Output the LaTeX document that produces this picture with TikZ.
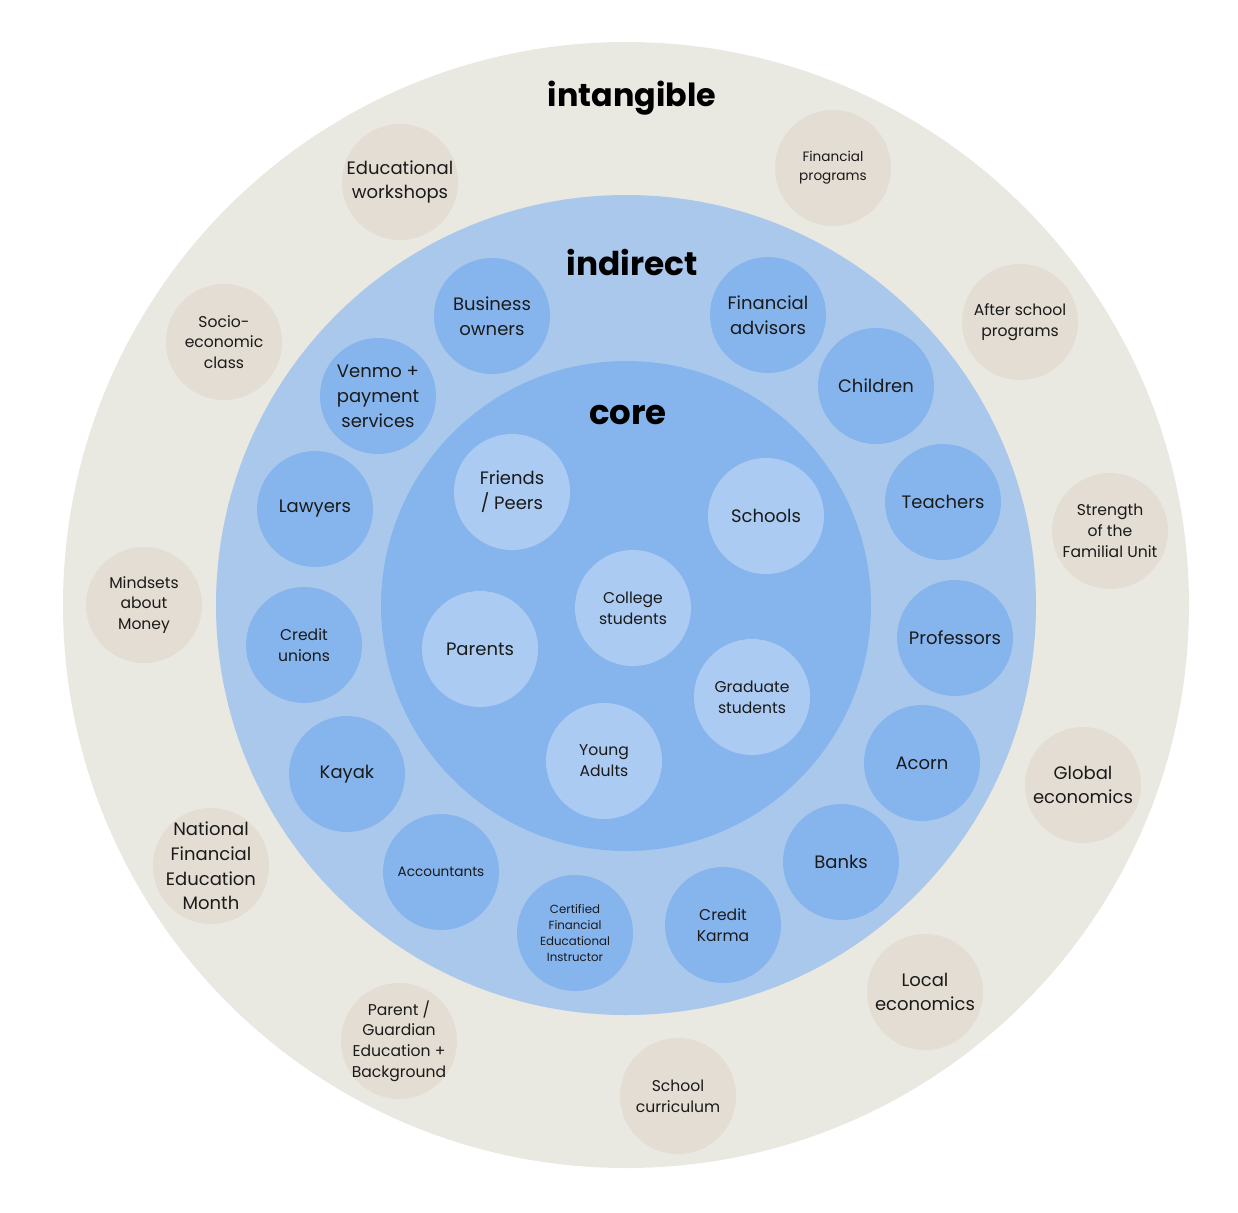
\documentclass[tikz,border=0pt]{standalone}
\usepackage{fontspec}
\setmainfont{Poppins}
\definecolor{outerbg}{HTML}{E9E8E1}
\definecolor{sand}{HTML}{E4DDD3}
\definecolor{midblue}{HTML}{AAC8EC}
\definecolor{deepblue}{HTML}{86B5EE}
\definecolor{paleblue}{HTML}{ABCBF2}
\definecolor{ink}{HTML}{1A1A1A}
\newcommand{\fsL}{\fontsize{9pt}{12.4pt}\selectfont}
\newcommand{\fsM}{\fontsize{7.8pt}{10.4pt}\selectfont}
\newcommand{\fsS}{\fontsize{6.8pt}{9.6pt}\selectfont}
\newcommand{\fsT}{\fontsize{5.9pt}{8pt}\selectfont}
\tikzset{
  ball/.style={circle, minimum size=58pt, inner sep=0pt},
  sandball/.style={ball, fill=sand},
  blueball/.style={ball, fill=deepblue},
  paleball/.style={ball, fill=paleblue},
  every label/.style={align=center, text=ink, inner sep=0pt},
  ringtitle/.style={font=\fontsize{16.4pt}{20pt}\selectfont\bfseries, text=black}
}
\begin{document}
\begin{tikzpicture}[x=0.5pt, y=-0.5pt]
    \useasboundingbox (0, 0) rectangle (1238, 1212);
    % rings
    \fill[outerbg] (626, 605) circle (563);
    \fill[midblue] (626, 605) circle (410);
    \fill[deepblue] (626, 606) circle (245);
    \node[ringtitle, font=\fontsize{15.9pt}{20pt}\selectfont\bfseries] (intangible) at (632, 98) {intangible};
    \node[ringtitle] (indirect) at (632, 262) {indirect};
    \node[ringtitle, font=\fontsize{17pt}{20pt}\selectfont\bfseries] (core) at (628, 415) {core};

    % intangible
    \node[sandball, label={[font=\fsL]center:Educational\\workshops}] (workshops) at (400, 182) {};
    \node[sandball, label={[font=\fsS]center:Financial\\programs}] (finprog) at (833, 168) {};
    \node[sandball, label={[font=\fsM]center:Socio-\\economic\\class}] (socio) at (224, 342) {};
    \node[sandball, label={[font=\fsM]center:After school\\programs}] (afterschool) at (1020, 322) {};
    \node[sandball, label={[font=\fsM]center:Strength\\of the\\Familial Unit}] (familial) at (1110, 531) {};
    \node[sandball, label={[font=\fsM]center:Mindsets\\about\\Money}] (mindsets) at (144, 605) {};
    \node[sandball, label={[font=\fsL]center:Global\\economics}] (global) at (1083, 785) {};
    \node[sandball, label={[font=\fsL]center:National\\Financial\\Education\\Month}] (natmonth) at (211, 866) {};
    \node[sandball, label={[font=\fsL]center:Local\\economics}] (local) at (925, 992) {};
    \node[sandball, label={[font=\fsM]center:Parent /\\Guardian\\Education +\\Background}] (guardian) at (399, 1041) {};
    \node[sandball, label={[font=\fsM]center:School\\curriculum}] (curriculum) at (678, 1096) {};

    % indirect
    \node[blueball, label={[font=\fsL]center:Business\\owners}] (owners) at (492, 316) {};
    \node[blueball, label={[font=\fsL]center:Financial\\advisors}] (advisors) at (768, 315) {};
    \node[blueball, label={[font=\fsL]center:Venmo +\\payment\\services}] (venmo) at (378, 396) {};
    \node[blueball, label={[font=\fsL]center:Children}] (children) at (876, 386) {};
    \node[blueball, label={[font=\fsL]center:Lawyers}] (lawyers) at (315, 509) {};
    \node[blueball, label={[font=\fsL]center:Teachers}] (teachers) at (943, 502) {};
    \node[blueball, label={[font=\fsM]center:Credit\\unions}] (unions) at (304, 645) {};
    \node[blueball, label={[font=\fsL]center:Professors}] (professors) at (955, 638) {};
    \node[blueball, label={[font=\fsL]center:Kayak}] (kayak) at (347, 774) {};
    \node[blueball, label={[font=\fsL]center:Acorn}] (acorn) at (922, 763) {};
    \node[blueball, label={[font=\fsS]center:Accountants}] (accountants) at (441, 872) {};
    \node[blueball, label={[font=\fsL]center:Banks}] (banks) at (841, 862) {};
    \node[blueball, label={[font=\fsT]center:Certified\\Financial\\Educational\\Instructor}] (instructor) at (575, 933) {};
    \node[blueball, label={[font=\fsM]center:Credit\\Karma}] (karma) at (723, 925) {};

    % core
    \node[paleball, label={[font=\fsL]center:Friends\\/ Peers}] (friends) at (512, 492) {};
    \node[paleball, label={[font=\fsL]center:Schools}] (schools) at (766, 516) {};
    \node[paleball, label={[font=\fsM]center:College\\students}] (college) at (633, 608) {};
    \node[paleball, label={[font=\fsL]center:Parents}] (parents) at (480, 649) {};
    \node[paleball, label={[font=\fsM]center:Graduate\\students}] (graduate) at (752, 697) {};
    \node[paleball, label={[font=\fsM]center:Young\\Adults}] (young) at (604, 761) {};
\end{tikzpicture}
\end{document}
